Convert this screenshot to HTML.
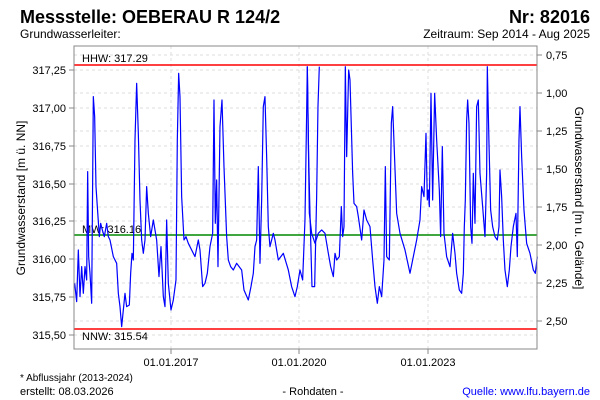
<!DOCTYPE html>
<html><head><meta charset="utf-8"><style>
body{margin:0;background:#fff;}
svg{display:block;font-family:"Liberation Sans",sans-serif;}
</style></head><body>
<svg width="600" height="400" xmlns="http://www.w3.org/2000/svg">
<rect width="600" height="400" fill="#fff"/>
<text x="20" y="23" font-size="18" font-weight="bold" fill="#000">Messstelle: OEBERAU R 124/2</text>
<text x="590" y="23" font-size="18" font-weight="bold" fill="#000" text-anchor="end">Nr: 82016</text>
<text x="20" y="38" font-size="12">Grundwasserleiter:</text>
<text x="590" y="38" font-size="12" text-anchor="end">Zeitraum: Sep 2014 - Aug 2025</text>
<g stroke="#ddd" stroke-dasharray="3,3" stroke-width="1">
<line x1="74" x2="537" y1="70" y2="70"/><line x1="74" x2="537" y1="108" y2="108"/><line x1="74" x2="537" y1="146" y2="146"/><line x1="74" x2="537" y1="184" y2="184"/><line x1="74" x2="537" y1="221" y2="221"/><line x1="74" x2="537" y1="259" y2="259"/><line x1="74" x2="537" y1="297" y2="297"/><line x1="74" x2="537" y1="335" y2="335"/>
<line x1="74" x2="537" y1="55" y2="55"/><line x1="74" x2="537" y1="93" y2="93"/><line x1="74" x2="537" y1="131" y2="131"/><line x1="74" x2="537" y1="169" y2="169"/><line x1="74" x2="537" y1="207" y2="207"/><line x1="74" x2="537" y1="245" y2="245"/><line x1="74" x2="537" y1="283" y2="283"/><line x1="74" x2="537" y1="321" y2="321"/>
<line x1="171" x2="171" y1="46" y2="349"/><line x1="299" x2="299" y1="46" y2="349"/><line x1="428" x2="428" y1="46" y2="349"/>
</g>
<line x1="74" x2="537" y1="65" y2="65" stroke="#f00" stroke-width="1.5"/>
<line x1="74" x2="537" y1="329" y2="329" stroke="#f00" stroke-width="1.5"/>
<line x1="74" x2="537" y1="235" y2="235" stroke="#080" stroke-width="1.5"/>
<text x="82" y="62" font-size="11">HHW: 317.29</text>
<text x="82" y="233" font-size="11">MW: 316.16</text>
<text x="82" y="340" font-size="11">NNW: 315.54</text>
<g fill="none" stroke="#00f" stroke-width="1.2" stroke-linejoin="round">
<polyline vector-effect="non-scaling-stroke" transform="translate(60,40) scale(0.3333)" points="44,730 50,785 55,630 60,770 65,680 70,760 75,680 80,720 83,395 86,650 90,700 95,790 100,170 104,230 108,440 112,500 118,590 122,550 127,570 133,590 140,550 145,590 150,600 160,650 170,670 175,760 180,800 185,860 188,830 195,760 200,800 208,795 212,700 216,640 220,660 225,300 230,130 235,280 240,480 245,600 250,640 255,600 260,440 265,520 272,590 280,540 290,600 297,710 303,620 310,770 315,800 320,540 325,730 333,810 340,780 348,720 352,300 356,100 360,170 365,470 372,600 378,590 385,610 395,630 405,650 415,600 420,630 428,740 435,730 442,700 450,620 458,580 462,180 466,550 470,420 474,680 480,260 486,180 492,380 500,590 505,660 512,680 520,690 530,670 545,690 552,750 565,780 573,740 580,700 585,620 590,600 595,380 600,670 605,480 610,200 615,170 620,350 625,560 630,620 640,580 645,600 655,660 670,640 685,690 695,740 705,770 712,740 720,690 728,720 735,540 740,220 742,80 746,350 750,520 756,740 764,740 770,470 774,200 778,80"/>
<polyline vector-effect="non-scaling-stroke" transform="translate(300,40) scale(0.3333)" points="22,80 28,520 35,580 45,610 55,580 65,570 75,580 85,640 92,680 100,710 105,640 110,660 118,650 124,500 128,590 132,560 136,80 140,350 146,90 150,120 158,400 162,490 170,500 175,530 185,600 192,510 200,540 210,560 218,660 225,740 232,790 238,740 245,770 252,660 256,380 260,650 268,660 274,250 278,200 284,360 290,520 300,580 315,630 330,700 340,650 350,600 360,540 365,440 372,470 378,280 382,480 385,450 388,500 393,160 398,480 404,160 410,300 418,450 422,590 427,320 432,580 440,650 450,680 458,580 465,640 470,700 478,750 485,760 490,700 493,560 496,480 500,240 503,180 507,250 512,560 516,610 520,400 525,550 530,200 535,180 540,400 548,500 555,590 560,400 562,80 567,310 572,510 578,560 585,590 592,600 597,560 600,390 605,470 610,600 615,690 622,740 628,690 633,620 640,560 648,520 652,650 657,300 660,200 665,350 672,510 680,610 690,640 700,690 706,700 712,650"/>
</g>
<rect x="74" y="46" width="463" height="303" fill="none" stroke="#888" stroke-width="1"/>
<g stroke="#888"><line x1="69" x2="74" y1="70" y2="70"/><line x1="69" x2="74" y1="108" y2="108"/><line x1="69" x2="74" y1="146" y2="146"/><line x1="69" x2="74" y1="184" y2="184"/><line x1="69" x2="74" y1="221" y2="221"/><line x1="69" x2="74" y1="259" y2="259"/><line x1="69" x2="74" y1="297" y2="297"/><line x1="69" x2="74" y1="335" y2="335"/>
<line x1="537" x2="542" y1="55" y2="55"/><line x1="537" x2="542" y1="93" y2="93"/><line x1="537" x2="542" y1="131" y2="131"/><line x1="537" x2="542" y1="169" y2="169"/><line x1="537" x2="542" y1="207" y2="207"/><line x1="537" x2="542" y1="245" y2="245"/><line x1="537" x2="542" y1="283" y2="283"/><line x1="537" x2="542" y1="321" y2="321"/>
<line x1="171" x2="171" y1="349" y2="354"/><line x1="299" x2="299" y1="349" y2="354"/><line x1="428" x2="428" y1="349" y2="354"/></g>
<g font-size="11" text-anchor="end"><text x="66" y="74">317,25</text><text x="66" y="112">317,00</text><text x="66" y="150">316,75</text><text x="66" y="188">316,50</text><text x="66" y="225">316,25</text><text x="66" y="263">316,00</text><text x="66" y="301">315,75</text><text x="66" y="339">315,50</text></g>
<g font-size="11"><text x="546" y="59">0,75</text><text x="546" y="97">1,00</text><text x="546" y="135">1,25</text><text x="546" y="173">1,50</text><text x="546" y="211">1,75</text><text x="546" y="249">2,00</text><text x="546" y="287">2,25</text><text x="546" y="325">2,50</text></g>
<g font-size="11" text-anchor="middle"><text x="171" y="366">01.01.2017</text><text x="299" y="366">01.01.2020</text><text x="428" y="366">01.01.2023</text></g>
<text transform="translate(25,198) rotate(-90)" font-size="12" text-anchor="middle">Grundwasserstand [m ü. NN]</text>
<text transform="translate(575,198) rotate(90)" font-size="12" text-anchor="middle">Grundwasserstand [m u. Gelände]</text>
<text x="20" y="381" font-size="10">* Abflussjahr (2013-2024)</text>
<text x="20" y="395" font-size="11">erstellt:  08.03.2026</text>
<text x="313" y="395" font-size="11" text-anchor="middle">- Rohdaten -</text>
<text x="590" y="395" font-size="11" text-anchor="end" fill="#00f">Quelle: www.lfu.bayern.de</text>
</svg>
</body></html>
